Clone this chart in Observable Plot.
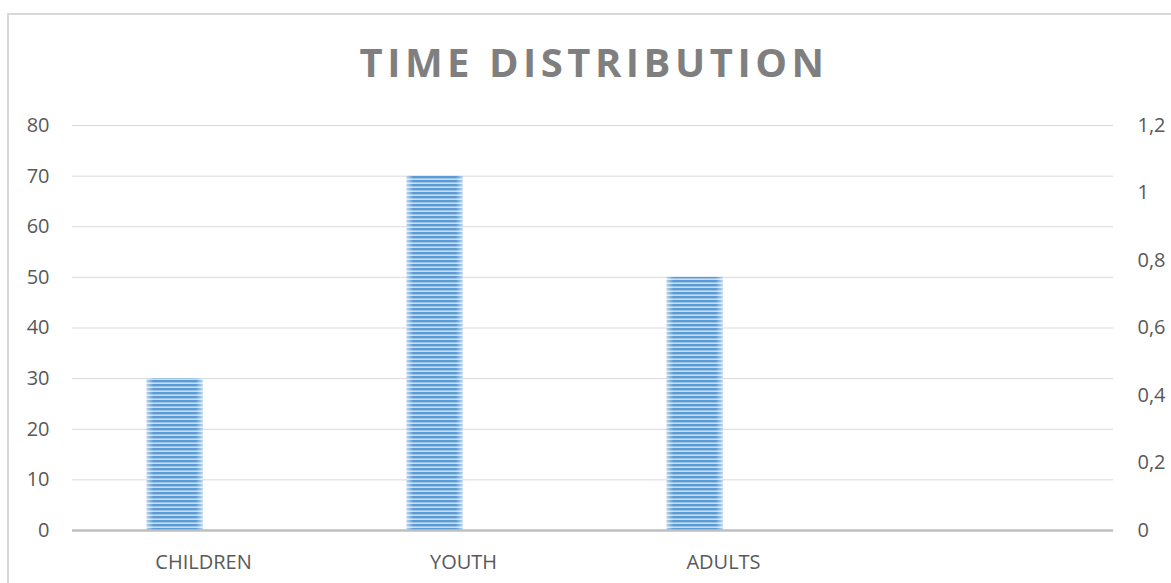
<!DOCTYPE html>
<html>
<head>
<meta charset="utf-8">
<script src="https://cdn.jsdelivr.net/npm/d3@7"></script>
<script src="https://cdn.jsdelivr.net/npm/@observablehq/plot@0.6"></script>
<style>
  html, body { margin: 0; padding: 0; background: #fff; overflow: hidden; }
  #wrap { position: relative; width: 1171px; height: 583px; overflow: hidden; }
  #frame { position: absolute; left: 7px; top: 13px; width: 1300px; height: 700px; border: 2px solid #d9d9d9; box-sizing: border-box; }
  #title { position: absolute; left: 2px; top: 42px; width: 1184px; text-align: center; font-family: "Open Sans", sans-serif; font-weight: 700; font-size: 40px; line-height: 40px; letter-spacing: 4.5px; color: #7f7f7f; white-space: nowrap; }
  #chart { position: absolute; left: 0; top: 100px; }
</style>
</head>
<body>
<div id="wrap">
  <div id="frame"></div>
  <div id="title">TIME DISTRIBUTION</div>
  <div id="chart"></div>
</div>
<script>
const titleText = "TIME DISTRIBUTION";
const categories = ["CHILDREN", "YOUTH", "ADULTS", " "];
const values = [30, 70, 50];
const leftTicks = [0, 10, 20, 30, 40, 50, 60, 70, 80];
const rightTicks = [0, 0.2, 0.4, 0.6, 0.8, 1, 1.2];
const leftMax = 80;
const rightMax = 1.2;

const data = values.map((v, i) => ({category: categories[i], value: v}));
const comma = d3.formatLocale({decimal: ",", thousands: ".", grouping: [3], currency: ["", ""]}).format(".1~f");
const rightPositions = rightTicks.map(t => t * leftMax / rightMax);

const plot = Plot.plot({
  width: 1171,
  height: 483,
  marginTop: 25,
  marginBottom: 53,
  marginLeft: 72,
  marginRight: 58,
  x: {domain: categories, padding: 0, axis: null, label: null},
  y: {domain: [0, leftMax], axis: null, label: null},
  style: {fontFamily: "Open Sans, sans-serif", fontSize: "20px", color: "#595959", background: "transparent", overflow: "visible"},
  marks: [
    Plot.gridY(leftTicks, {stroke: "#d9d9d9", strokeOpacity: 1, strokeWidth: 1}),
    Plot.barY(data, {x: "category", y: "value", fill: "url(#stripes)", insetLeft: 73.7, insetRight: 130.5}),
    Plot.barY(data, {x: "category", y: "value", fill: "url(#edges)", insetLeft: 73.7, insetRight: 130.5}),
    Plot.ruleY([0], {stroke: "#bfbfbf", strokeWidth: 2.5}),
    Plot.axisY(leftTicks, {anchor: "left", tickSize: 0, tickPadding: 23, fontSize: 20, label: null}),
    Plot.axisY(rightPositions, {anchor: "right", tickSize: 0, tickPadding: 24, fontSize: 20, label: null,
      tickFormat: d => comma(d * rightMax / leftMax)}),
    Plot.axisX({tickSize: 0, tickPadding: 24, fontSize: 20, label: null})
  ]
});
document.getElementById("title").textContent = titleText;
document.getElementById("chart").appendChild(plot);

const svg = d3.select(plot);
const defs = svg.insert("defs", ":first-child");
const pat = defs.append("pattern").attr("id", "stripes").attr("patternUnits", "userSpaceOnUse")
  .attr("width", 8).attr("height", 4);
pat.append("rect").attr("width", 8).attr("height", 4).attr("fill", "#5b9bd5");
pat.append("rect").attr("y", 2.4).attr("width", 8).attr("height", 1.6).attr("fill", "#c9ddf2");
const grad = defs.append("linearGradient").attr("id", "edges").attr("x1", 0).attr("x2", 1).attr("y1", 0).attr("y2", 0);
[[0, 0.55], [0.12, 0], [0.88, 0], [1, 0.55]].forEach(([o, a]) =>
  grad.append("stop").attr("offset", o).attr("stop-color", "#ffffff").attr("stop-opacity", a));
</script>
</body>
</html>
